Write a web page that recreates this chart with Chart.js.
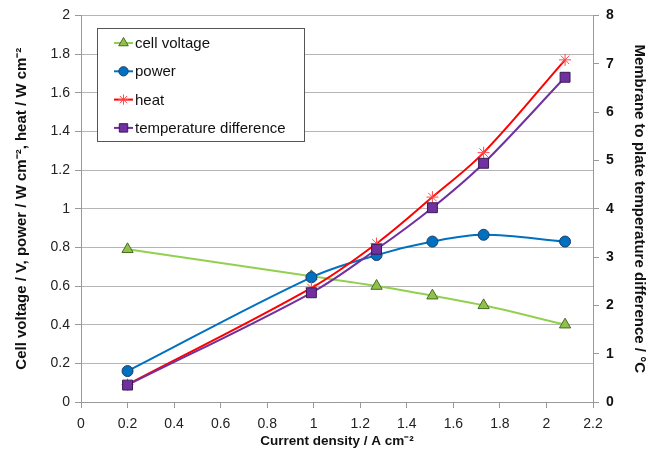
<!DOCTYPE html>
<html>
<head>
<meta charset="utf-8">
<title>Cell performance vs current density</title>
<script src="https://cdn.jsdelivr.net/npm/chart.js@4.4.1/dist/chart.umd.min.js"></script>
<style>
  html, body { margin: 0; padding: 0; background: #fff; }
  #wrap { width: 660px; height: 460px; }
</style>
</head>
<body>
<div id="wrap"><canvas id="cellChart" width="660" height="460"></canvas></div>
<script>
// Current density (A cm-2) of each measurement
const currentDensity = [0.2, 0.99, 1.27, 1.51, 1.73, 2.08];

// Left axis series
const cellVoltage = [0.79, 0.65, 0.60, 0.55, 0.50, 0.40];
const power = [0.16, 0.645, 0.76, 0.83, 0.865, 0.83];
const heat = [0.09, 0.59, 0.82, 1.06, 1.29, 1.77];

// Right axis series (°C)
const tempDifference = [0.35, 2.26, 3.16, 4.02, 4.94, 6.72];

const seriesLabels = ['cell voltage', 'power', 'heat', 'temperature difference'];

const FONT = '"Liberation Sans", Arial, sans-serif';

function toPoints(values) {
  return values.map((v, i) => ({ x: currentDensity[i], y: v }));
}

// Boxed legend drawn inside the plot area
const boxLegend = {
  id: 'boxLegend',
  afterDraw(chart) {
    const ctx = chart.ctx;
    const left = 97, top = 28, w = 207, h = 113;
    ctx.save();
    ctx.fillStyle = '#ffffff';
    ctx.fillRect(left, top, w, h);
    ctx.strokeStyle = '#555555';
    ctx.lineWidth = 1;
    ctx.strokeRect(left + 0.5, top + 0.5, w, h);

    ctx.font = '15px ' + FONT;
    ctx.textBaseline = 'middle';
    chart.data.datasets.forEach((ds, i) => {
      const y = top + 15 + i * 28.3;
      ctx.strokeStyle = ds.borderColor;
      ctx.lineWidth = 2;
      ctx.beginPath();
      ctx.moveTo(114, y);
      ctx.lineTo(133, y);
      ctx.stroke();

      ctx.fillStyle = ds.pointBackgroundColor;
      ctx.strokeStyle = ds.pointBorderColor;
      ctx.lineWidth = ds.pointBorderWidth;
      Chart.helpers.drawPoint(ctx, {
        pointStyle: ds.pointStyle,
        radius: ds.pointRadius * 0.85,
        rotation: 0,
        borderWidth: ds.pointBorderWidth
      }, 123.5, y);

      ctx.fillStyle = '#111111';
      ctx.fillText(ds.label, 135, y + 1);
    });
    ctx.restore();
  }
};

const ctx = document.getElementById('cellChart').getContext('2d');

new Chart(ctx, {
  type: 'line',
  data: {
    datasets: [
      {
        label: seriesLabels[0],
        data: toPoints(cellVoltage),
        yAxisID: 'y',
        borderColor: '#92d050',
        borderWidth: 2,
        pointStyle: 'triangle',
        pointRadius: 6.5,
        pointBackgroundColor: '#8fc24a',
        pointBorderColor: '#4a6a22',
        pointBorderWidth: 1,
        tension: 0.3,
        order: 3
      },
      {
        label: seriesLabels[1],
        data: toPoints(power),
        yAxisID: 'y',
        borderColor: '#0070c0',
        borderWidth: 2,
        pointStyle: 'circle',
        pointRadius: 5.5,
        pointBackgroundColor: '#0070c0',
        pointBorderColor: '#1d3f66',
        pointBorderWidth: 1,
        tension: 0.35,
        order: 2
      },
      {
        label: seriesLabels[2],
        data: toPoints(heat),
        yAxisID: 'y',
        borderColor: '#ff0000',
        borderWidth: 2,
        pointStyle: 'star',
        pointRadius: 6,
        pointBackgroundColor: '#ff0000',
        pointBorderColor: '#ff4848',
        pointBorderWidth: 1,
        tension: 0.35,
        order: 1
      },
      {
        label: seriesLabels[3],
        data: toPoints(tempDifference),
        yAxisID: 'y2',
        borderColor: '#7030a0',
        borderWidth: 2,
        pointStyle: 'rect',
        pointRadius: 7,
        pointBackgroundColor: '#7030a0',
        pointBorderColor: '#3a1a55',
        pointBorderWidth: 1,
        tension: 0.35,
        order: 0
      }
    ]
  },
  options: {
    responsive: false,
    animation: false,
    layout: { padding: { top: 13, left: 0, right: 0, bottom: 0 } },
    plugins: {
      legend: { display: false },
      tooltip: { enabled: false }
    },
    scales: {
      x: {
        type: 'linear',
        min: 0,
        max: 2.2,
        ticks: {
          stepSize: 0.2,
          padding: 8,
          color: '#222',
          font: { family: FONT, size: 14 },
          callback: (v) => Math.round(v * 10) / 10
        },
        grid: {
          drawOnChartArea: false,
          drawTicks: true,
          tickLength: 6,
          color: '#999'
        },
        border: { color: '#999', width: 1 },
        title: {
          display: true,
          text: 'Current density / A cm⁻²',
          color: '#111',
          font: { family: FONT, size: 13.5, weight: 'bold' },
          padding: { top: 2, bottom: 11 }
        },
        afterFit(scale) { scale.height = 58; }
      },
      y: {
        position: 'left',
        min: 0,
        max: 2,
        ticks: {
          stepSize: 0.2,
          padding: 5,
          color: '#222',
          font: { family: FONT, size: 14 },
          callback: (v) => Math.round(v * 10) / 10
        },
        grid: {
          color: '#b5b5b5',
          lineWidth: 1,
          tickLength: 6,
          tickColor: '#999'
        },
        border: { color: '#999', width: 1 },
        title: {
          display: true,
          text: 'Cell voltage / V, power / W cm⁻², heat / W cm⁻²',
          color: '#111',
          font: { family: FONT, size: 15, weight: 'bold' },
          padding: { top: 13, bottom: 4 }
        },
        afterFit(scale) { scale.width = 81; }
      },
      y2: {
        position: 'right',
        min: 0,
        max: 8,
        ticks: {
          stepSize: 1,
          padding: 7,
          color: '#111',
          font: { family: FONT, size: 14, weight: 'bold' }
        },
        grid: {
          drawOnChartArea: false,
          tickLength: 6,
          color: '#999'
        },
        border: { color: '#999', width: 1 },
        title: {
          display: true,
          text: 'Membrane to plate temperature difference / °C',
          color: '#111',
          font: { family: FONT, size: 15, weight: 'bold' },
          padding: { top: 12, bottom: 4 }
        },
        afterFit(scale) { scale.width = 67; }
      }
    }
  },
  plugins: [boxLegend]
});
</script>
</body>
</html>
